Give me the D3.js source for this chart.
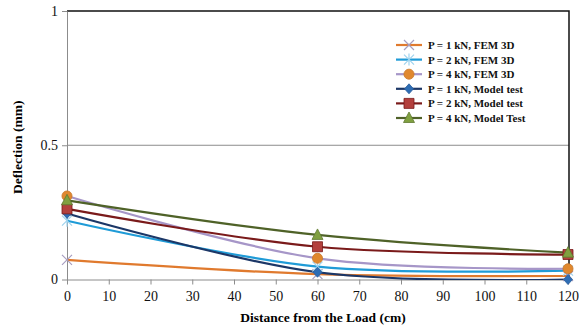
<!DOCTYPE html>
<html>
<head>
<meta charset="utf-8">
<script src="https://cdn.jsdelivr.net/npm/d3@7"></script>
<style>
  body { margin: 0; background: #fff; }
</style>
</head>
<body>
<svg id="chart" width="579" height="328"></svg>
<script>
// data
var distances = [0, 60, 120];
var seriesNames = ['P = 1 kN, FEM 3D', 'P = 2 kN, FEM 3D', 'P = 4 kN, FEM 3D',
                   'P = 1 kN, Model test', 'P = 2 kN, Model test', 'P = 4 kN, Model Test'];
var fem1 = [0.073, 0.020, 0.013];
var fem2 = [0.219, 0.048, 0.033];
var fem4 = [0.311, 0.079, 0.040];
var mod1 = [0.246, 0.027, 0.0];
var mod2 = [0.263, 0.122, 0.093];
var mod4 = [0.295, 0.166, 0.100];
var xTicks = d3.range(0, 121, 10);
var yTicks = [0, 0.5, 1];

var serif = '"Liberation Serif", "DejaVu Serif", "Times New Roman", serif';

var styles = [
  { line: '#e07a2e', marker: 'cross',    mfill: 'none',    mstroke: '#a79ec0' },
  { line: '#1f9bd7', marker: 'asterisk', mfill: 'none',    mstroke: '#9fd3ee' },
  { line: '#a696c8', marker: 'circle',   mfill: '#e0882e', mstroke: '#c8762a' },
  { line: '#1c3767', marker: 'diamond',  mfill: '#2e6db4', mstroke: '#2a5c9a' },
  { line: '#7a1a1a', marker: 'square',   mfill: '#b3403d', mstroke: '#7a1a1a' },
  { line: '#4f6228', marker: 'triangle', mfill: '#80a040', mstroke: '#5f7a30' }
];
var series = [fem1, fem2, fem4, mod1, mod2, mod4];

var svg = d3.select('#chart');
var pLeft = 67, pRight = 568, pTop = 11, pBottom = 279.5;

var xScale = d3.scaleLinear().domain([0, 120]).range([pLeft, pRight]);
var yScale = d3.scaleLinear().domain([0, 1]).range([pBottom, pTop]);

// gridline at 0.5
svg.append('line')
  .attr('x1', pLeft).attr('x2', pRight + 1)
  .attr('y1', yScale(0.5)).attr('y2', yScale(0.5))
  .style('stroke', '#8c8c8c').style('stroke-width', 1);

// frame top + right (black)
svg.append('path')
  .attr('d', 'M' + pLeft + ',' + yScale(1) + 'H' + (pRight + 1) + 'V' + pBottom)
  .style('fill', 'none').style('stroke', '#111').style('stroke-width', 1.5);

// axes
var xAxis = svg.append('g').attr('transform', 'translate(0,' + pBottom + ')')
  .call(d3.axisBottom(xScale).tickValues(xTicks).tickSize(5).tickSizeOuter(0));
var yAxis = svg.append('g').attr('transform', 'translate(' + pLeft + ',0)')
  .call(d3.axisLeft(yScale).tickValues(yTicks).tickSize(5).tickSizeOuter(0)
        .tickFormat(function(d){ return d; }));

[xAxis, yAxis].forEach(function(ax){
  ax.attr('font-family', serif);
  ax.select('.domain').style('stroke', '#8c8c8c');
  ax.selectAll('.tick line').style('stroke', '#8c8c8c');
  ax.selectAll('.tick text').style('font-size', '14px').style('fill', '#111')
    .style('font-family', serif);
});
xAxis.selectAll('.tick text').attr('dy', '0.95em').attr('y', 8);
yAxis.selectAll('.tick text').attr('x', -9);

// axis titles
svg.append('text')
  .attr('transform', 'translate(22,' + ((pTop + pBottom) / 2 + 2) + ') rotate(-90)')
  .style('text-anchor', 'middle').style('font-size', '13.5px').style('font-weight', 'bold')
  .style('font-family', serif)
  .text('Deflection (mm)');
svg.append('text')
  .attr('x', 323).attr('y', 322)
  .style('text-anchor', 'middle').style('font-size', '13.5px').style('font-weight', 'bold')
  .style('font-family', serif)
  .text('Distance from the Load (cm)');

// clip
svg.append('clipPath').attr('id', 'plotclip')
  .append('rect').attr('x', pLeft - 10).attr('y', pTop).attr('width', pRight - pLeft + 20).attr('height', pBottom - pTop + 0.5);

var lineGen = d3.line()
  .x(function(d){ return xScale(d.x); })
  .y(function(d){ return yScale(d.y); })
  .curve(d3.curveCatmullRom.alpha(0.5));

function markerPath(type, s){
  if(type === 'cross') return 'M' + -s + ',' + -s + 'L' + s + ',' + s + 'M' + -s + ',' + s + 'L' + s + ',' + -s;
  if(type === 'asterisk') return 'M' + -s + ',' + -s + 'L' + s + ',' + s + 'M' + -s + ',' + s + 'L' + s + ',' + -s + 'M0,' + -s * 1.2 + 'V' + s * 1.2;
  if(type === 'circle') return d3.symbol().type(d3.symbolCircle).size(80)();
  if(type === 'diamond') return 'M0,-5L4.5,0L0,5L-4.5,0Z';
  if(type === 'square') return 'M-5,-5H5V5H-5Z';
  if(type === 'triangle') return 'M0,-6L5.5,4.5H-5.5Z';
}

function drawMarker(g, st, x, y){
  g.append('path')
    .attr('d', markerPath(st.marker, 5))
    .attr('transform', 'translate(' + x + ',' + y + ')')
    .style('fill', st.mfill).style('stroke', st.mstroke)
    .style('stroke-width', (st.marker === 'cross' || st.marker === 'asterisk') ? 1.2 : 0.8);
}

var plot = svg.append('g').attr('clip-path', 'url(#plotclip)');
series.forEach(function(vals, i){
  var pts = distances.map(function(d, j){ return { x: d, y: vals[j] }; });
  plot.append('path').attr('d', lineGen(pts))
    .style('fill', 'none').style('stroke', styles[i].line).style('stroke-width', 2.2);
});
var marks = svg.append('g');
series.forEach(function(vals, i){
  distances.forEach(function(d, j){
    drawMarker(marks, styles[i], xScale(d), yScale(vals[j]));
  });
});

// legend
var legend = svg.append('g');
seriesNames.forEach(function(name, i){
  var y = 45 + i * 14.6;
  legend.append('line').attr('x1', 396).attr('x2', 422).attr('y1', y).attr('y2', y)
    .style('stroke', styles[i].line).style('stroke-width', 2.2);
  drawMarker(legend, styles[i], 409, y);
  legend.append('text').attr('x', 428).attr('y', y + 4)
    .style('font-size', '11px').style('font-weight', 'bold').style('fill', '#111')
    .style('font-family', serif)
    .text(name);
});
</script>
</body>
</html>
